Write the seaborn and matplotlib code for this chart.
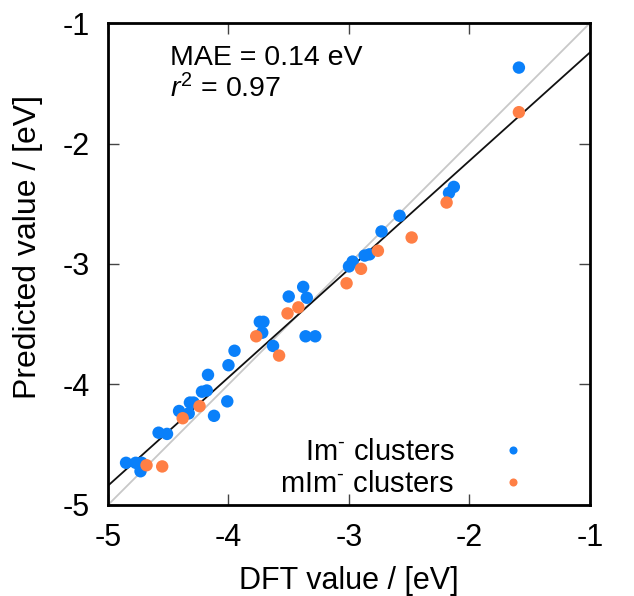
import numpy as np
import pandas as pd
import matplotlib
matplotlib.use('Agg')
import matplotlib.pyplot as plt
import seaborn as sns

# DFT vs predicted values (eV)
im_dft = [-1.59, -2.13, -2.17, -2.58, -2.73, -2.87, -2.83, -2.97, -3.00, -3.38,
          -3.50, -3.35, -3.74, -3.71, -3.72, -3.36, -3.28, -3.63, -3.95, -4.00,
          -4.17, -4.22, -4.18, -4.32, -4.29, -4.01, -4.41, -4.33, -4.12, -4.58,
          -4.51, -4.85, -4.77, -4.72, -4.73]
im_pred = [-1.37, -2.36, -2.41, -2.60, -2.73, -2.93, -2.92, -2.98, -3.02, -3.19,
           -3.27, -3.28, -3.48, -3.48, -3.57, -3.60, -3.60, -3.68, -3.72, -3.84,
           -3.92, -4.06, -4.05, -4.15, -4.15, -4.14, -4.22, -4.24, -4.26, -4.40,
           -4.41, -4.65, -4.65, -4.65, -4.72]
mim_dft = [-1.59, -2.19, -2.48, -2.76, -2.90, -3.02, -3.42, -3.51, -3.77, -3.58,
           -4.24, -4.38, -4.68, -4.55]
mim_pred = [-1.74, -2.49, -2.78, -2.89, -3.04, -3.16, -3.36, -3.41, -3.60, -3.76,
            -4.18, -4.28, -4.67, -4.68]

fit_slope = 0.899
fit_intercept = -0.345
mae = 0.14
r2 = 0.97

im_label = r'Im$^{\text{-}}$ clusters'
mim_label = r'mIm$^{\text{-}}$ clusters'

df = pd.DataFrame({
    'dft': im_dft + mim_dft,
    'pred': im_pred + mim_pred,
    'group': [im_label] * len(im_dft) + [mim_label] * len(mim_dft),
})

sns.set_theme(style='ticks')
plt.rcParams['font.family'] = ['Liberation Sans', 'DejaVu Sans']
plt.rcParams['mathtext.fontset'] = 'custom'
plt.rcParams['mathtext.rm'] = 'Liberation Sans'
plt.rcParams['mathtext.it'] = 'Liberation Sans:italic'
plt.rcParams['mathtext.sf'] = 'Liberation Sans'
for key in ['text.color', 'axes.labelcolor', 'xtick.labelcolor', 'ytick.labelcolor']:
    plt.rcParams[key] = 'black'

fig = plt.figure(figsize=(6.34, 5.96), dpi=100)
ax = fig.add_axes([0.1703, 0.1527, 0.7603, 0.8087])

lims = np.array([-5, -1])
ax.plot(lims, lims, color='#c8c8c8', lw=1.3, zorder=1)
ax.plot(lims, fit_slope * lims + fit_intercept, color='#111111', lw=1.3, zorder=2)

palette = {im_label: '#0a80fa', mim_label: '#ff7f45'}
sns.scatterplot(data=df, x='dft', y='pred', hue='group', palette=palette,
                s=80, linewidth=0, ax=ax, zorder=3, legend=True)

handles, labels = ax.get_legend_handles_labels()
ax.legend(handles, labels, loc='lower right', markerfirst=False, frameon=False,
          fontsize=21, markerscale=0.65, handlelength=1.0, handletextpad=1.5,
          labelspacing=0.15, borderaxespad=0, bbox_to_anchor=(0.894, -0.01))

ax.set_xlim(-5, -1)
ax.set_ylim(-5, -1)
ax.set_xticks([-5, -4, -3, -2, -1])
ax.set_yticks([-5, -4, -3, -2, -1])
ax.set_xticklabels(['-5', '-4', '-3', '-2', '-1'])
ax.set_yticklabels(['-5', '-4', '-3', '-2', '-1'])
ax.tick_params(direction='in', length=8, width=1, color='#444444',
               top=True, right=True, labelsize=22, pad=13)
for sp in ax.spines.values():
    sp.set_linewidth(2)
    sp.set_color('black')

ax.set_xlabel('DFT value / [eV]', fontsize=22, labelpad=9)
ax.set_ylabel('Predicted value / [eV]', fontsize=23)
ax.yaxis.set_label_coords(-0.135, 0.535)

ax.text(0.128, 0.955, f'MAE = {mae:.2f} eV', transform=ax.transAxes,
        fontsize=20.5, va='top', ha='left')
ax.text(0.128, 0.895, f'$r^2$ = {r2:.2f}', transform=ax.transAxes,
        fontsize=20.5, va='top', ha='left')

fig.savefig('out.png', dpi=100)
plt.close(fig)
